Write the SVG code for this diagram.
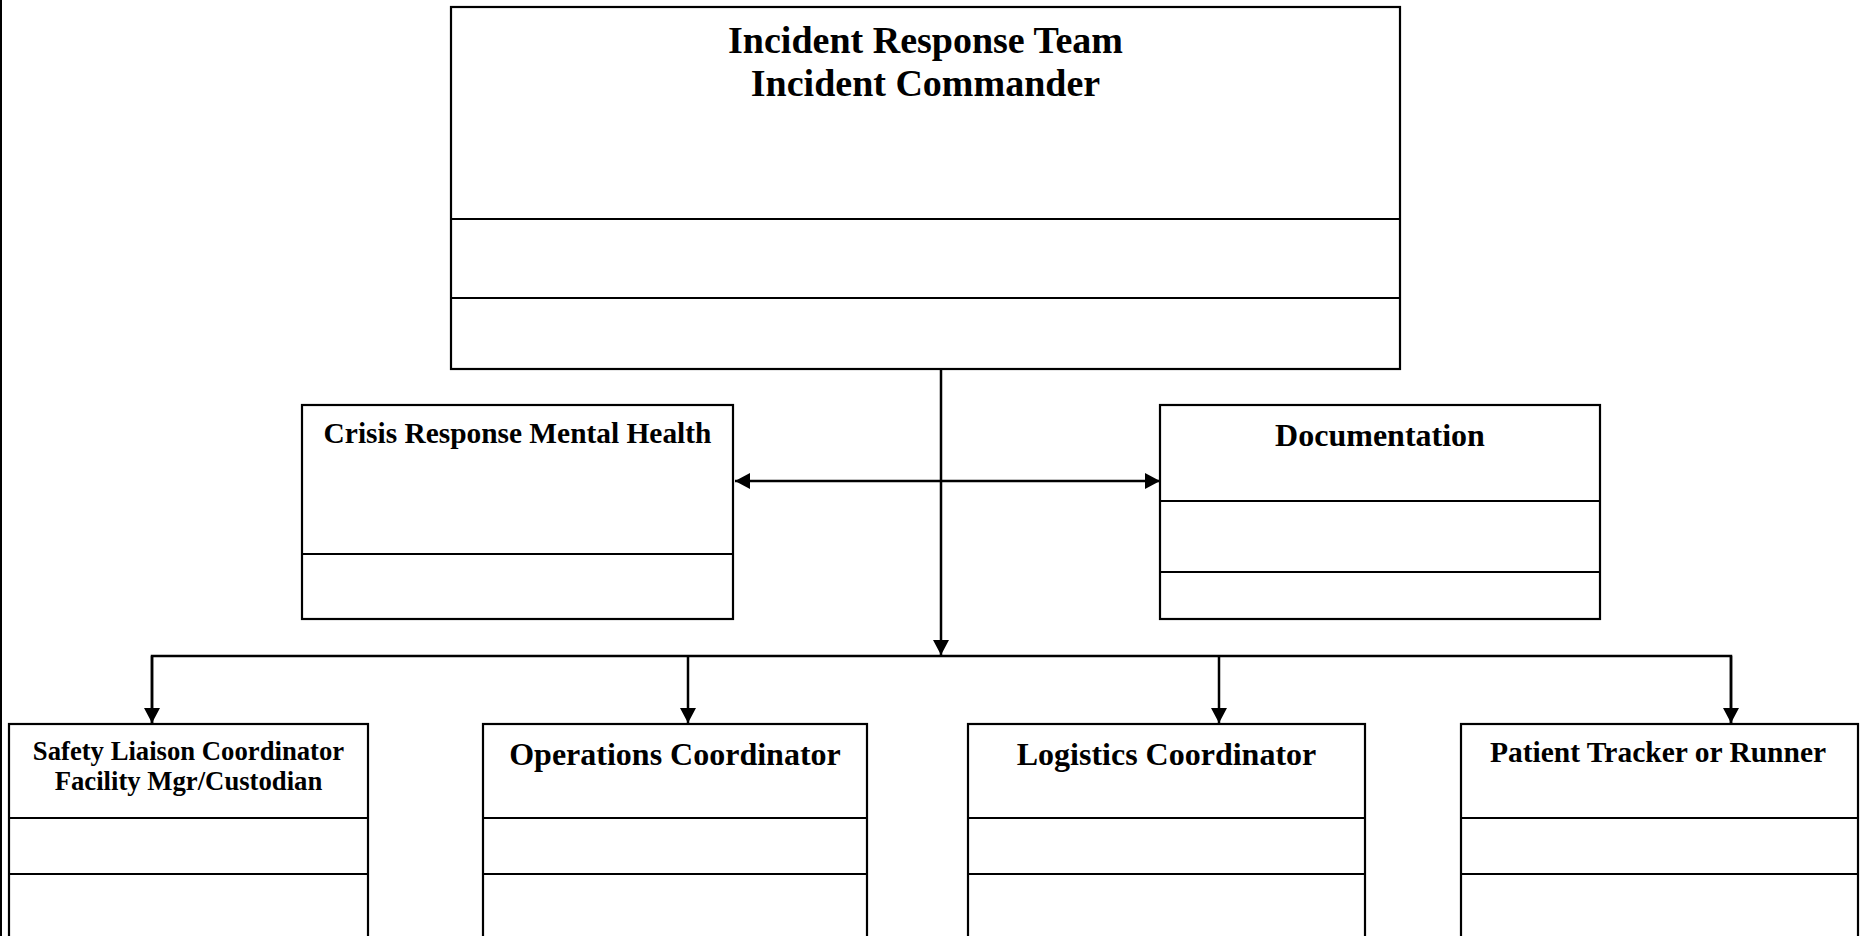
<svg xmlns="http://www.w3.org/2000/svg" width="1863" height="936" viewBox="0 0 1863 936">
<style>
.box{fill:#fff;stroke:#000;stroke-width:2.2}
.div{stroke:#000;stroke-width:2.2}
.t{font-family:"Liberation Serif","Times New Roman",serif;font-weight:bold;fill:#000;text-anchor:middle}
.c{fill:none;stroke:#000;stroke-width:2.5}
</style>
<defs>
<marker id="arr" viewBox="0 0 15 16" markerWidth="15" markerHeight="16" refX="15" refY="8" orient="auto-start-reverse" markerUnits="userSpaceOnUse">
<path d="M0,0 L15,8 L0,16 z" fill="#000"/>
</marker>
</defs>
<rect width="1863" height="936" fill="#fff"/>
<line x1="1" y1="0" x2="1" y2="936" stroke="#000" stroke-width="2"/>
<g id="connectors">
<line class="c" x1="941" y1="369" x2="941" y2="655" marker-end="url(#arr)"/>
<line class="c" x1="735" y1="481" x2="1160" y2="481" marker-start="url(#arr)" marker-end="url(#arr)"/>
<polyline class="c" points="152,723 152,656 1731,656 1731,723"/>
<line class="c" x1="152" y1="656" x2="152" y2="723" marker-end="url(#arr)"/>
<line class="c" x1="688" y1="656" x2="688" y2="723" marker-end="url(#arr)"/>
<line class="c" x1="1219" y1="656" x2="1219" y2="723" marker-end="url(#arr)"/>
<line class="c" x1="1731" y1="656" x2="1731" y2="723" marker-end="url(#arr)"/>
</g>
<g id="incident-commander">
<rect class="box" x="451" y="7" width="949" height="362"/>
<line class="div" x1="451" y1="219" x2="1400" y2="219"/>
<line class="div" x1="451" y1="298" x2="1400" y2="298"/>
<text class="t" x="925.5" y="53" font-size="38">Incident Response Team</text>
<text class="t" x="925.5" y="96" font-size="38">Incident Commander</text>
</g>
<g id="crisis-mental-health">
<rect class="box" x="302" y="405" width="431" height="214"/>
<line class="div" x1="302" y1="554" x2="733" y2="554"/>
<text class="t" x="517.5" y="443" font-size="29.4">Crisis Response Mental Health</text>
</g>
<g id="documentation">
<rect class="box" x="1160" y="405" width="440" height="214"/>
<line class="div" x1="1160" y1="501" x2="1600" y2="501"/>
<line class="div" x1="1160" y1="572" x2="1600" y2="572"/>
<text class="t" x="1380" y="446" font-size="32">Documentation</text>
</g>
<g id="safety-liaison">
<rect class="box" x="9" y="724" width="359" height="214"/>
<line class="div" x1="9" y1="818" x2="368" y2="818"/>
<line class="div" x1="9" y1="874" x2="368" y2="874"/>
<text class="t" x="188.5" y="760" font-size="26.7">Safety Liaison Coordinator</text>
<text class="t" x="188.5" y="790" font-size="26.7">Facility Mgr/Custodian</text>
</g>
<g id="operations">
<rect class="box" x="483" y="724" width="384" height="214"/>
<line class="div" x1="483" y1="818" x2="867" y2="818"/>
<line class="div" x1="483" y1="874" x2="867" y2="874"/>
<text class="t" x="675" y="765" font-size="32">Operations Coordinator</text>
</g>
<g id="logistics">
<rect class="box" x="968" y="724" width="397" height="214"/>
<line class="div" x1="968" y1="818" x2="1365" y2="818"/>
<line class="div" x1="968" y1="874" x2="1365" y2="874"/>
<text class="t" x="1166.5" y="765" font-size="32">Logistics Coordinator</text>
</g>
<g id="patient-tracker">
<rect class="box" x="1461" y="724" width="397" height="214"/>
<line class="div" x1="1461" y1="818" x2="1858" y2="818"/>
<line class="div" x1="1461" y1="874" x2="1858" y2="874"/>
<text class="t" x="1658" y="762" font-size="29.5">Patient Tracker or Runner</text>
</g>
</svg>
